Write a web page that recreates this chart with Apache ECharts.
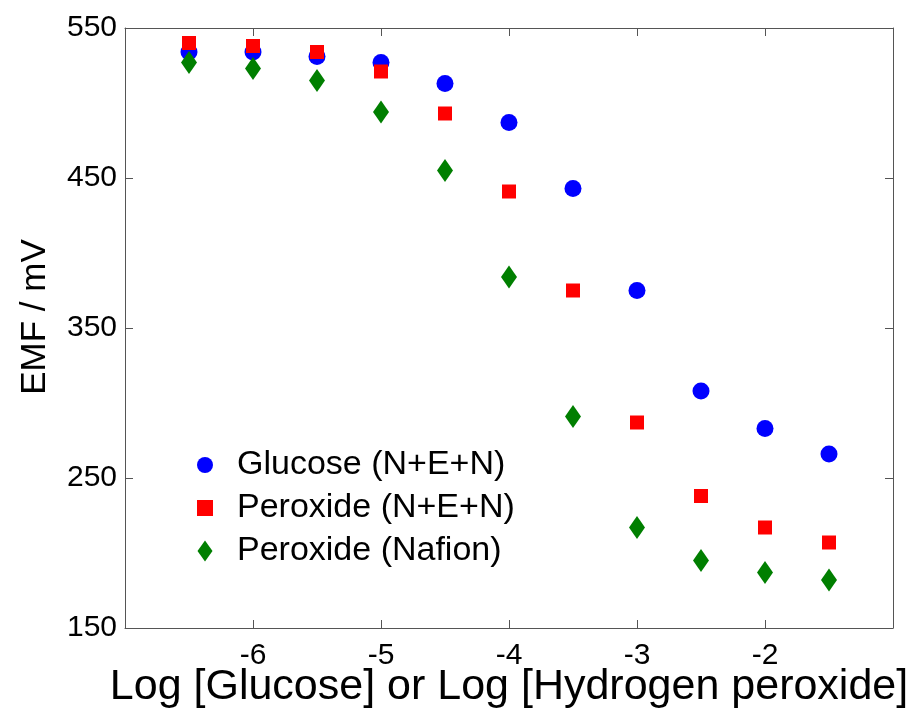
<!DOCTYPE html>
<html>
<head>
<meta charset="utf-8">
<script src="https://cdn.jsdelivr.net/npm/echarts@6/dist/echarts.min.js"></script>
<style>
html,body{margin:0;padding:0;background:#fff;}
#chart{width:911px;height:713px;}
</style>
</head>
<body>
<div id="chart"></div>
<script>
// x：log浓度
var logConc = [-6.5, -6, -5.5, -5, -4.5, -4, -3.5, -3, -2.5, -2, -1.5];
// EMF / mV
var glucoseNEN  = [534, 534, 531, 527, 513, 487, 443, 375, 308, 283, 266];
var peroxideNEN = [540, 538, 534, 521, 493, 441, 375, 287, 238, 217, 207];
var peroxideNaf = [527, 523, 515, 494, 455, 384, 291, 217, 195, 187, 182];
var seriesNames = ['Glucose (N+E+N)', 'Peroxide (N+E+N)', 'Peroxide (Nafion)'];
var yTicks = [150, 250, 350, 450, 550];
var xTicks = [-6, -5, -4, -3, -2];

var diamondPath = 'path://M5,0L10,7L5,14L0,7Z';

function pairs(ys) {
    var out = [];
    for (var i = 0; i < logConc.length; i++) {
        out.push([logConc[i], ys[i]]);
    }
    return out;
}

var fontFam = '"Liberation Sans", Arial, sans-serif';
var frameColor = '#555';

function frameAxis(extra) {
    var base = {
        axisLine: {show: true, onZero: false, lineStyle: {color: frameColor, width: 1}},
        axisTick: {show: true, inside: true, length: 8, lineStyle: {color: frameColor}},
        splitLine: {show: false}
    };
    for (var k in extra) base[k] = extra[k];
    return base;
}

var dom = document.getElementById('chart');
var myChart = echarts.init(dom);

var option = {
    animation: false,
    backgroundColor: '#fff',
    textStyle: {fontFamily: fontFam},
    grid: {left: 125, right: 18, top: 28, bottom: 85, containLabel: false, outerBoundsMode: 'none'},
    legend: {
        orient: 'vertical',
        left: 197,
        top: 448,
        padding: 0,
        itemWidth: 16,
        itemHeight: 21,
        itemGap: 9,
        symbolKeepAspect: true,
        data: [
            {name: seriesNames[0], icon: 'circle'},
            {name: seriesNames[1], icon: 'path://M0,0L10,0L10,10L0,10Z'},
            {name: seriesNames[2], icon: diamondPath}
        ],
        textStyle: {fontSize: 34, color: '#000', fontFamily: fontFam, lineHeight: 34, padding: [0, 0, 0, 19]}
    },
    xAxis: [
        frameAxis({
            type: 'value', min: -7, max: -1, interval: 1, position: 'bottom',
            name: 'Log [Glucose] or Log [Hydrogen peroxide]',
            nameLocation: 'middle', nameGap: 38, nameMoveOverlap: false,
            nameTextStyle: {fontSize: 43, color: '#000', fontFamily: fontFam},
            axisLabel: {
                fontSize: 30, color: '#000', margin: 13,
                showMinLabel: false, showMaxLabel: false,
                formatter: function (v) { return xTicks.indexOf(v) >= 0 ? String(v) : ''; }
            }
        }),
        frameAxis({
            type: 'value', min: -7, max: -1, interval: 1, position: 'top',
            axisLabel: {show: false}
        })
    ],
    yAxis: [
        frameAxis({
            type: 'value', min: yTicks[0], max: yTicks[yTicks.length - 1], interval: 100, position: 'left',
            name: 'EMF / mV',
            nameLocation: 'middle', nameGap: 72, nameMoveOverlap: false,
            nameTextStyle: {fontSize: 35, color: '#000', fontFamily: fontFam, padding: [0, 0, 0, 22]},
            axisLabel: {fontSize: 30, color: '#000', margin: 8}
        }),
        frameAxis({
            type: 'value', min: yTicks[0], max: yTicks[yTicks.length - 1], interval: 100, position: 'right',
            axisLabel: {show: false}
        })
    ],
    series: [
        {
            name: seriesNames[0], type: 'scatter', symbol: 'circle', symbolSize: 17,
            itemStyle: {color: '#0000ff', opacity: 1}, data: pairs(glucoseNEN)
        },
        {
            name: seriesNames[1], type: 'scatter', symbol: 'rect', symbolSize: 14,
            itemStyle: {color: '#ff0000', opacity: 1}, data: pairs(peroxideNEN)
        },
        {
            name: seriesNames[2], type: 'scatter', symbol: 'diamond', symbolSize: [16, 23],
            itemStyle: {color: '#007f00', opacity: 1}, data: pairs(peroxideNaf)
        }
    ]
};

if (option && typeof option === 'object') {
    myChart.setOption(option, true);
}
</script>
</body>
</html>
